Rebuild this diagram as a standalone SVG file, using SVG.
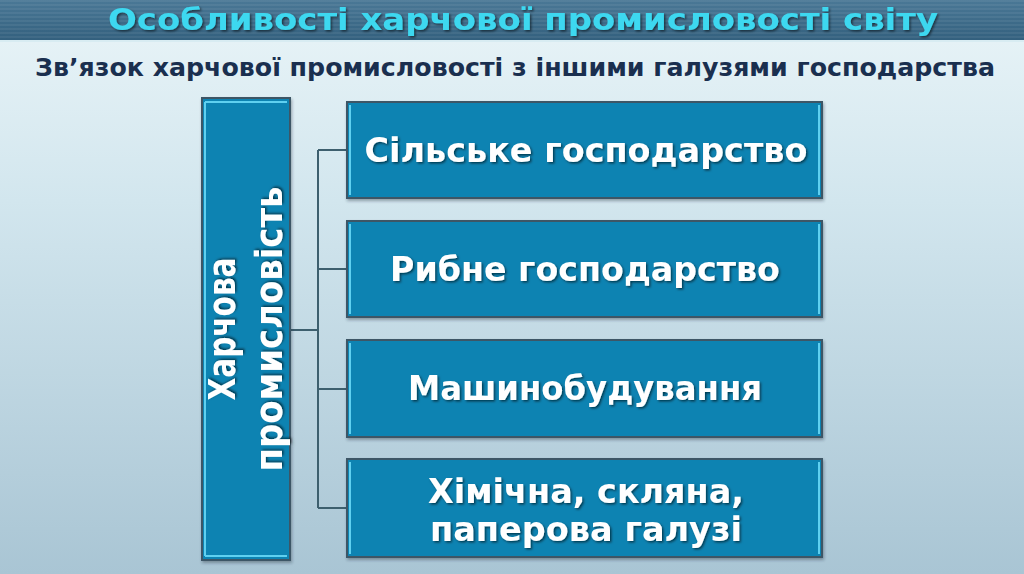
<svg xmlns="http://www.w3.org/2000/svg" width="1024" height="574" viewBox="0 0 1024 574">
<defs>
<linearGradient id="bg" x1="0" y1="0" x2="0" y2="1">
<stop offset="0" stop-color="#eaf5f8"/>
<stop offset="0.35" stop-color="#d2e6ee"/>
<stop offset="1" stop-color="#a9c5d4"/>
</linearGradient>
<linearGradient id="bar" x1="0" y1="0" x2="0" y2="1">
<stop offset="0" stop-color="#4a7896"/>
<stop offset="1" stop-color="#33607e"/>
</linearGradient>
<pattern id="stripes" width="4" height="4" patternUnits="userSpaceOnUse">
<rect width="4" height="2" fill="#ffffff" opacity="0.06"/>
</pattern>
<filter id="sh" x="-10%" y="-10%" width="120%" height="130%">
<feDropShadow dx="1.5" dy="1.5" stdDeviation="1" flood-color="#000" flood-opacity="0.55"/>
</filter>
<filter id="bsh" x="-5%" y="-5%" width="110%" height="115%">
<feDropShadow dx="1" dy="2" stdDeviation="1.5" flood-color="#203040" flood-opacity="0.4"/>
</filter>
</defs>
<style>
.box{fill:#0a83b2;stroke:#3d5766;stroke-width:2}
.hl{stroke:#5fd0f0;stroke-width:2;fill:none}
.lbl{font-family:"DejaVu Sans","Liberation Sans",sans-serif;font-weight:bold;fill:#ffffff;text-anchor:middle}
.con{stroke:#3d5f6e;stroke-width:2;fill:none}
</style>
<rect width="1024" height="574" fill="url(#bg)"/>
<rect width="1024" height="40" fill="url(#bar)"/>
<rect width="1024" height="40" fill="url(#stripes)"/>
<rect y="40" width="1024" height="2" fill="#d8ecf2"/>
<text x="523" y="30" font-family="'DejaVu Sans','Liberation Sans',sans-serif" font-weight="bold" font-size="31" fill="#3ed8f0" text-anchor="middle" textLength="830" lengthAdjust="spacingAndGlyphs" filter="url(#sh)">Особливості харчової промисловості світу</text>
<text x="515" y="76" font-family="'DejaVu Sans','Liberation Sans',sans-serif" font-weight="bold" font-size="25" fill="#1a2f4f" text-anchor="middle" textLength="960" lengthAdjust="spacingAndGlyphs">Зв’язок харчової промисловості з іншими галузями господарства</text>
<g id="connectors">
<path class="con" d="M290 330 H318 M318 150 V508 M318 150 H347 M318 269 H347 M318 389 H347 M318 508 H347"/>
</g>
<g id="food" filter="url(#bsh)">
<rect class="box" x="202" y="98" width="88" height="462"/>
<path class="hl" d="M205 102 H287 M205 556 H287 M205 102 V556"/>
<g transform="translate(246 329) rotate(-90)">
<text class="lbl" x="0" y="-11" font-size="37" textLength="143" lengthAdjust="spacingAndGlyphs" filter="url(#sh)">Харчова</text>
<text class="lbl" x="0" y="36" font-size="37" textLength="285" lengthAdjust="spacingAndGlyphs" filter="url(#sh)">промисловість</text>
</g>
</g>
<g id="agri" filter="url(#bsh)">
<rect class="box" x="347" y="102" width="475" height="96"/>
<path class="hl" d="M350 105 V195 M819 105 V195"/>
<text class="lbl" x="586" y="162" font-size="33" textLength="443" lengthAdjust="spacingAndGlyphs" filter="url(#sh)">Сільське господарство</text>
</g>
<g id="fish" filter="url(#bsh)">
<rect class="box" x="347" y="221" width="475" height="96"/>
<path class="hl" d="M350 224 V314 M819 224 V314"/>
<text class="lbl" x="585" y="281" font-size="33" textLength="390" lengthAdjust="spacingAndGlyphs" filter="url(#sh)">Рибне господарство</text>
</g>
<g id="mach" filter="url(#bsh)">
<rect class="box" x="347" y="340" width="475" height="97"/>
<path class="hl" d="M350 343 V434 M819 343 V434"/>
<text class="lbl" x="585" y="400" font-size="33" textLength="354" lengthAdjust="spacingAndGlyphs" filter="url(#sh)">Машинобудування</text>
</g>
<g id="chem" filter="url(#bsh)">
<rect class="box" x="347" y="459" width="475" height="98"/>
<path class="hl" d="M350 462 V554 M819 462 V554"/>
<text class="lbl" x="586" y="503" font-size="33" textLength="316" lengthAdjust="spacingAndGlyphs" filter="url(#sh)">Хімічна, скляна,</text>
<text class="lbl" x="586" y="541" font-size="33" textLength="312" lengthAdjust="spacingAndGlyphs" filter="url(#sh)">паперова галузі</text>
</g>
</svg>
